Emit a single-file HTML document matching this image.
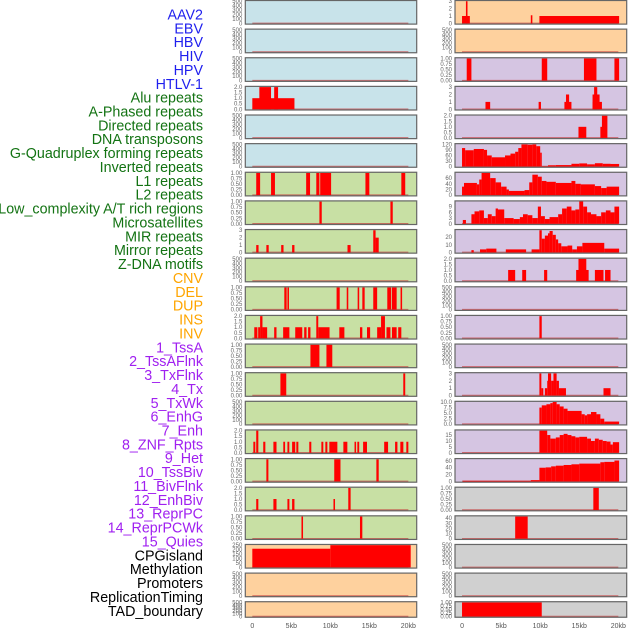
<!DOCTYPE html>
<html><head><meta charset="utf-8"><style>
html,body{margin:0;padding:0;background:#fff;}
svg{display:block;font-family:"Liberation Sans","DejaVu Sans",sans-serif;}
</style></head><body>
<svg id="chart" width="630" height="630" viewBox="0 0 630 630" xmlns="http://www.w3.org/2000/svg"></svg>
<script>
// ---------- data ----------
const trackLabels = ["AAV2","EBV","HBV","HIV","HPV","HTLV-1","Alu repeats","A-Phased repeats","Directed repeats","DNA transposons","G-Quadruplex forming repeats","Inverted repeats","L1 repeats","L2 repeats","Low_complexity A/T rich regions","Microsatellites","MIR repeats","Mirror repeats","Z-DNA motifs","CNV","DEL","DUP","INS","INV","1_TssA","2_TssAFlnk","3_TxFlnk","4_Tx","5_TxWk","6_EnhG","7_Enh","8_ZNF_Rpts","9_Het","10_TssBiv","11_BivFlnk","12_EnhBiv","13_ReprPC","14_ReprPCWk","15_Quies","CPGisland","Methylation","Promoters","ReplicationTiming","TAD_boundary"];
const labelGroups = ["virus","virus","virus","virus","virus","virus","rep","rep","rep","rep","rep","rep","rep","rep","rep","rep","rep","rep","rep","sv","sv","sv","sv","sv","hmm","hmm","hmm","hmm","hmm","hmm","hmm","hmm","hmm","hmm","hmm","hmm","hmm","hmm","hmm","oth","oth","oth","oth","oth"];
const xTickValues = [0,5,10,15,20];
const xTickLabels = ["0","5kb","10kb","15kb","20kb"];

const tick500 = [0,100,200,300,400,500];
const tick1 = [0,0.25,0.5,0.75,1];
const tick2 = [0,0.5,1,1.5,2];
const tick3 = [0,1,2,3];

const L0 = [], L1 = [], L2 = [], L4 = [], L5 = [], L9 = [], L14 = [], L20 = [], L21 = [];
const L3 = [[0,5.4,1],[0.9,2.4,2],[2.8,3.3,2]];
const L6 = [[0.5,1.0,1],[2.4,2.9,1],[6.9,7.4,1],[8.2,8.6,1],[8.7,10.1,1],[14.5,15.0,1],[19.1,19.6,1]];
const L7 = [[8.6,8.9,1],[17.7,18.0,1]];
const L8 = [[0.5,0.8,1],[1.8,2.1,1],[3.7,4.0,1],[5.1,5.4,1],[12.2,12.6,1],[15.5,15.8,3],[15.8,16.2,2]];
const L10 = [[4.1,4.4,1],[4.5,4.7,1],[10.8,11.2,1],[12.1,12.3,1],[13.5,13.7,1],[14.1,14.4,1],[15.5,16.0,1],[17.3,17.8,1],[17.9,18.5,1],[19.0,19.2,1]];
const L11 = [[0.25,0.65,1],[0.75,1.0,1],[1.0,1.3,2],[1.3,1.9,1],[2.8,3.1,1],[3.95,4.75,1],[5.5,6.4,1],[6.65,6.95,1],[7.15,7.45,1],[8.2,8.45,2],[8.45,9.9,1],[11.15,11.8,1],[13.8,14.1,1],[14.7,15.1,1],[16.0,16.5,1],[16.5,17.0,2],[17.2,17.7,1],[17.9,18.5,1],[18.7,19.1,1]];
const L12 = [[7.45,8.6,1],[9.5,10.25,1]];
const L13 = [[3.6,4.35,1],[19.35,19.6,1]];
const L15 = [[0.13,0.38,1],[0.5,0.77,2],[1.4,1.67,1],[2.7,3.1,1],[3.97,4.2,1],[4.5,4.74,1],[5.1,5.5,1],[5.64,5.9,1],[7.3,7.56,1],[8.85,9.1,1],[9.36,9.62,1],[9.87,10.9,1],[11.67,12.18,1],[13.1,13.3,1],[13.46,13.7,1],[14.2,14.7,1],[16.9,17.4,1],[18.3,18.6,1],[18.97,19.36,1],[19.74,20.0,1]];
const L16 = [[1.8,2.06,1],[10.5,11.3,1],[15.9,16.2,1]];
const L17 = [[0.5,0.77,1],[2.7,3.1,1],[4.5,4.75,1],[5.1,5.4,1],[10.4,10.6,1],[12.3,12.6,2]];
const L18 = [[6.3,6.5,1],[13.8,14.1,1]];
const L19 = [[0,10,210],[10,20.3,250]];

const R1 = [], R10 = [], R12 = [], R19 = [], R20 = [];
const R0 = [[0,1.0,1],[0.5,0.7,3],[8.8,9.0,1.1],[9.9,20.1,1]];
const R2 = [[0.6,1.2,1],[10.2,10.9,1],[15.6,17.2,1],[19.5,20.1,1]];
const R3 = [[3.0,3.6,1],[9.8,10.1,1],[13.1,14.0,1],[13.3,13.7,2],[16.7,17.9,1],[16.7,17.6,2],[16.9,17.3,3]];
const R4 = [[14.9,15.9,1],[17.7,18.0,1],[17.9,18.6,2]];
const R5 = [[0,0.4,100],[0.4,1.5,88],[1.5,2.8,95],[2.8,3.2,90],[3.2,3.8,60],[3.8,5.5,50],[5.5,6.2,60],[6.2,6.8,70],[6.8,7.2,80],[7.2,7.6,100],[7.6,8.4,120],[8.4,9.0,118],[9.0,9.5,120],[9.5,10.0,110],[10.0,10.2,75],[10.2,11.0,2],[11.0,12.0,7],[12.0,14.0,8],[14.0,15.0,15],[15.0,16.0,17],[16.0,17.0,12],[17.0,18.0,18],[18.0,19.0,15],[19.0,20.1,14]];
const R6 = [[0,0.25,30],[0.25,1.9,43],[1.9,2.2,38],[2.2,2.5,55],[2.5,3.6,78],[3.6,4.3,60],[4.3,5.0,45],[5.0,5.7,30],[5.7,6.0,20],[6.0,8.0,15],[8.0,8.6,18],[8.6,9.0,45],[9.0,9.7,72],[9.7,10.2,65],[10.2,10.8,50],[10.8,12.0,47],[12.0,14.0,43],[14.0,14.5,50],[14.5,15.2,40],[15.2,17.0,38],[17.0,17.8,32],[17.8,18.5,25],[18.5,20.1,30]];
const R7 = [[0.1,0.5,2],[1.2,1.6,5],[1.6,2.2,6.5],[2.2,2.8,7],[2.8,3.3,3],[3.3,3.8,5],[3.8,4.3,4],[4.3,4.6,8],[4.6,5.4,7.5],[5.4,6.6,3],[6.6,7.4,2.5],[7.4,7.8,3.5],[7.8,8.4,5],[8.4,9.0,4.5],[9.0,9.7,3],[9.7,10.1,9],[10.1,10.6,4],[10.6,11.2,2.5],[11.2,12.3,3.5],[12.3,12.8,5],[12.8,13.4,8],[13.4,14.0,9],[14.0,14.5,7],[14.5,15.0,7.5],[15.0,15.5,12],[15.5,16.0,9],[16.0,16.5,6],[16.5,17.2,5],[17.2,17.8,4],[17.8,18.4,6],[18.4,19.0,7],[19.0,19.5,6],[19.5,20.1,9]];
const R8 = [[1.2,1.5,3],[2.3,3.1,4],[3.1,4.4,5],[5.6,8.2,4],[8.9,9.9,4],[9.9,10.2,29],[10.2,10.6,18],[10.6,11.0,22],[11.0,11.2,25],[11.2,11.6,28],[11.6,12.0,23],[12.0,12.3,17],[12.3,12.7,12],[12.7,13.5,8],[13.5,14.1,9],[14.1,14.7,4],[14.7,15.4,8],[15.4,18.2,12.5],[18.2,20.1,5]];
const R9 = [[5.9,6.8,1],[7.7,8.2,1],[10.5,10.9,1],[14.6,16.2,1],[14.9,15.9,2],[17.0,18.1,1],[18.3,19.0,1]];
const R11 = [[9.9,10.2,1]];
const R13 = [[9.9,10.15,3],[10.15,10.4,1],[10.6,10.9,1],[10.9,11.0,2],[11.0,11.4,3],[11.4,11.7,2],[11.7,12.1,3],[12.1,12.4,2],[12.4,13.3,1],[18.1,19.0,1]];
const R14 = [[9.9,10.2,7.5],[10.2,10.8,8.5],[10.8,11.3,9],[11.3,11.6,9.5],[11.6,12.1,10],[12.1,12.5,9],[12.5,13.0,8],[13.0,13.5,7],[13.5,15.3,6],[15.3,15.7,4.5],[15.7,16.0,4],[16.0,16.5,4.5],[16.5,17.2,5.5],[17.2,17.7,4.5],[17.7,18.2,2.5],[18.2,20.1,1.2]];
const R15 = [[9.9,10.9,18.7],[10.9,11.3,15],[11.3,12.0,12],[12.0,12.5,13],[12.5,13.0,15],[13.0,13.5,16],[13.5,14.0,15],[14.0,14.5,14],[14.5,15.0,13],[15.0,16.0,13.5],[16.0,16.5,12],[16.5,17.0,10],[17.0,17.5,12],[17.5,18.0,11],[18.0,18.5,10],[18.5,19.0,9.5],[19.0,19.3,7],[19.3,20.1,9]];
const R16 = [[0.1,8.8,2],[8.8,9.9,4],[9.9,10.7,40],[10.7,11.4,41],[11.4,12.0,44],[12.0,13.0,46],[13.0,14.0,48],[14.0,15.0,50],[15.0,17.7,52],[17.7,18.2,56],[18.2,19.5,57],[19.5,20.1,61]];
const R17 = [[16.8,17.5,1]];
const R18 = [[6.8,8.4,43]];
const R21 = [[0,10.2,1]];

const leftSegs = [L0,L1,L2,L3,L4,L5,L6,L7,L8,L9,L10,L11,L12,L13,L14,L15,L16,L17,L18,L19,L20,L21];
const rightSegs = [R0,R1,R2,R3,R4,R5,R6,R7,R8,R9,R10,R11,R12,R13,R14,R15,R16,R17,R18,R19,R20,R21];
const leftYmax = [500,500,500,2,500,500,1,1,3,500,1,2,1,1,500,2,1,2,1,250,500,500];
const rightYmax = [3,500,1,3,2,120,78,11.6,29,2,500,1,500,3,10,18.7,64.6,1,43,500,500,1];
const leftTicks = [tick500,tick500,tick500,tick2,tick500,tick500,tick1,tick1,tick3,tick500,tick1,tick2,tick1,tick1,tick500,tick2,tick1,tick2,tick1,[0,50,100,150,200,250],tick500,tick500];
const rightTicks = [tick3,tick500,tick1,tick3,tick2,[0,30,60,90,120],[0,20,40,60],[0,3,6,9],[0,10,20],tick2,tick500,tick1,tick500,tick3,[0,2.5,5,7.5,10],[0,5,10,15],[0,20,40,60],tick1,[0,10,20,30,40],tick500,tick500,tick1];
const leftBg = ["blue","blue","blue","blue","blue","blue","green","green","green","green","green","green","green","green","green","green","green","green","green","orange","orange","orange"];
const rightBg = ["orange","orange","purple","purple","purple","purple","purple","purple","purple","purple","purple","purple","purple","purple","purple","purple","purple","grey","grey","grey","grey","grey"];

const NS = "http://www.w3.org/2000/svg";
const svg = document.getElementById("chart");
const bgColors = {blue:"#c8e3ea",green:"#c8e0a4",orange:"#fed19e",purple:"#d5c5e2",grey:"#d0d0d0"};
const labelColors = {virus:"#1f1fee",rep:"#137313",sv:"#ffa500",hmm:"#a020f0",oth:"#000000"};
const colX = [245.3, 455.0];
const colW = [171.4, 171.7];
const rowPitch = 28.63;
const kbMin = -0.9, kbMax = 21.07;

function mk(tag, attrs, parent){
  const e = document.createElementNS(NS, tag);
  for (const k in attrs) e.setAttribute(k, attrs[k]);
  (parent||svg).appendChild(e);
  return e;
}
function xScale(col, kb){ return colX[col] + (kb - kbMin) / (kbMax - kbMin) * colW[col]; }
function rowTop(r){ return r * rowPitch; }
function rowH(r){ return r === 21 ? 16.5 : 24.6; }
function yScale(r, v, ymax){ const t = rowTop(r), h = rowH(r); return t + h - 1.2 - v / ymax * (h - 2.4); }
function fmtTick(v, ticks){
  const mx = ticks[ticks.length-1];
  if (ticks === tick1) return v.toFixed(2);
  if (ticks === tick2) return v.toFixed(1);
  if (mx === 10) return v.toFixed(1);
  return String(v);
}

trackLabels.forEach((lab, i) => {
  const t = mk("text", {x:203, y:(19.4 + 13.87*i).toFixed(2), "text-anchor":"end", "font-size":"14.3", fill:labelColors[labelGroups[i]]});
  
  
  t.textContent = lab;
});

function drawPanel(col, r, segs, ymax, ticks, bg){
  const g = mk("g", {});
  
  
  const x0 = colX[col], w = colW[col], t = rowTop(r), h = rowH(r);
  mk("rect", {x:x0, y:t, width:w, height:h, fill:bgColors[bg]}, g);
  const bl = mk("line", {x1:xScale(col,0), x2:xScale(col,20), y1:yScale(r,0,ymax), y2:yScale(r,0,ymax), stroke:"#c43c3c", "stroke-opacity":"0.7", "stroke-width":"1.6"}, g);
  
  
  segs.forEach(s => {
    const xa = xScale(col, s[0]), xb = xScale(col, s[1]);
    const ya = yScale(r, s[2], ymax), yb = yScale(r, 0, ymax);
    const b = mk("rect", {x:xa.toFixed(2), y:ya.toFixed(2), width:Math.max(1.2, xb-xa).toFixed(2), height:Math.max(0, yb-ya).toFixed(2), fill:"#ff0000"}, g);
    
    
  });
  mk("rect", {x:x0, y:t+0.5, width:w, height:h-1, fill:"none", stroke:"#666", "stroke-width":"1.2"}, g);
  ticks.forEach(v => {
    const y = yScale(r, v, ymax);
    const tx = mk("text", {x:(x0-3).toFixed(1), y:(y+2).toFixed(2), "text-anchor":"end", "font-size":"6", fill:"#666"}, g);
    
    
    tx.textContent = fmtTick(v, ticks);
  });
}

for (let r = 0; r < 22; r++){
  drawPanel(0, r, leftSegs[r], leftYmax[r], leftTicks[r], leftBg[r]);
  drawPanel(1, r, rightSegs[r], rightYmax[r], rightTicks[r], rightBg[r]);
}

[0,1].forEach(col => {
  xTickValues.forEach((v, i) => {
    const tx = mk("text", {x:xScale(col, v).toFixed(2), y:"628", "text-anchor":"middle", "font-size":"7", fill:"#555"});
    
    
    tx.textContent = xTickLabels[i];
  });
});
</script>
</body></html>
